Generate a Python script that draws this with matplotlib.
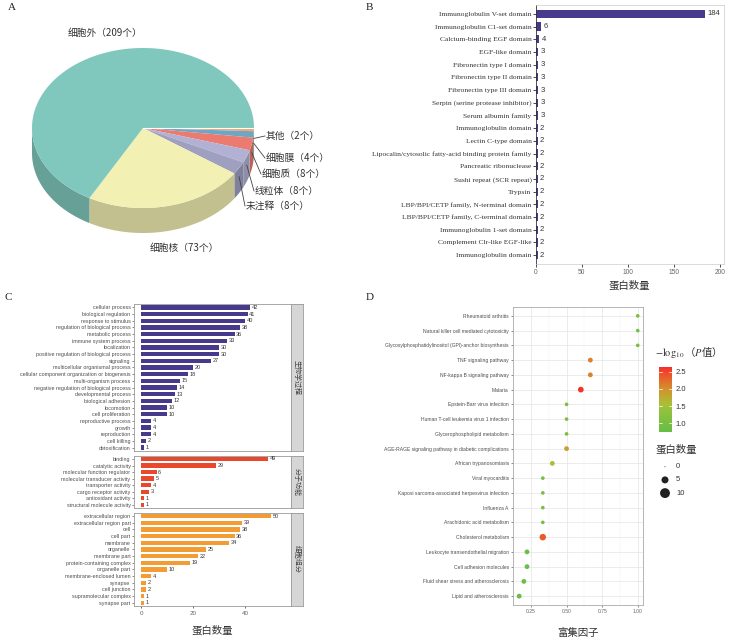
import numpy as np
import matplotlib
matplotlib.use('Agg')
import matplotlib.pyplot as plt
from matplotlib.patches import Polygon
from matplotlib.colors import LinearSegmentedColormap, Normalize, to_rgb
import matplotlib.cm as cm

plt.rcParams['font.family'] = ['Liberation Sans', 'Noto Sans CJK SC', 'DejaVu Sans']
plt.rcParams['mathtext.fontset'] = 'stix'

# ---------------- data ----------------
# A: subcellular location
loc_names = ['其他', '细胞膜', '细胞质', '线粒体', '未注释', '细胞核', '细胞外']
loc_counts = [2, 4, 8, 8, 8, 73, 209]
loc_colors = ['#F4A66A', '#6EA7C6', '#EC7B6F', '#B3B1D3', '#9FA0C0', '#F2F0B3', '#80C8BD']

# B: protein domains
dom_names = ['Immunoglobulin V-set domain', 'Immunoglobulin C1-set domain', 'Calcium-binding EGF domain',
             'EGF-like domain', 'Fibronectin type I domain', 'Fibronectin type II domain',
             'Fibronectin type III domain', 'Serpin (serine protease inhibitor)', 'Serum albumin family',
             'Immunoglobulin domain', 'Lectin C-type domain',
             'Lipocalin/cytosolic fatty-acid binding protein family', 'Pancreatic ribonuclease',
             'Sushi repeat (SCR repeat)', 'Trypsin', 'LBP/BPI/CETP family, N-terminal domain',
             'LBP/BPI/CETP family, C-terminal domain', 'Immunoglobulin 1-set domain',
             'Complement Clr-like EGF-like', 'Immunoglobulin domain']
dom_counts = [184, 6, 4, 3, 3, 3, 3, 3, 3, 2, 2, 2, 2, 2, 2, 2, 2, 2, 2, 2]

# C: GO classification
bp_terms = ['cellular process', 'biological regulation', 'response to stimulus',
            'regulation of biological process', 'metabolic process', 'immune system process',
            'localization', 'positive regulation of biological process', 'signaling',
            'multicellular organismal process', 'cellular component organization or biogenesis',
            'multi-organism process', 'negative regulation of biological process',
            'developmental process', 'biological adhesion', 'locomotion', 'cell proliferation',
            'reproductive process', 'growth', 'reproduction', 'cell killing', 'detoxification']
bp_counts = [42, 41, 40, 38, 36, 33, 30, 30, 27, 20, 18, 15, 14, 13, 12, 10, 10, 4, 4, 4, 2, 1]
mf_terms = ['binding', 'catalytic activity', 'molecular function regulator',
            'molecular transducer activity', 'transporter activity', 'cargo receptor activity',
            'antioxidant activity', 'structural molecule activity']
mf_counts = [49, 29, 6, 5, 4, 3, 1, 1]
cc_terms = ['extracellular region', 'extracellular region part', 'cell', 'cell part', 'membrane',
            'organelle', 'membrane part', 'protein-containing complex', 'organelle part',
            'membrane-enclosed lumen', 'synapse', 'cell junction', 'supramolecular complex',
            'synapse part']
cc_counts = [50, 39, 38, 36, 34, 25, 22, 19, 10, 4, 2, 2, 1, 1]
go_groups = ['生物学过程', '分子功能', '细胞组分']

# D: KEGG enrichment
kegg_terms = ['Rheumatoid arthritis', 'Natural killer cell mediated cytotoxicity',
              'Glycosylphosphatidylinositol (GPI)-anchor biosynthesis', 'TNF signaling pathway',
              'NF-kappa B signaling pathway', 'Malaria', 'Epstein-Barr virus infection',
              'Human T-cell leukemia virus 1 infection', 'Glycerophospholipid metabolism',
              'AGE-RAGE signaling pathway in diabetic complications', 'African trypanosomiasis',
              'Viral myocarditis', 'Kaposi sarcoma-associated herpesvirus infection', 'Influenza A',
              'Arachidonic acid metabolism', 'Cholesterol metabolism',
              'Leukocyte transendothelial migration', 'Cell adhesion molecules',
              'Fluid shear stress and atherosclerosis', 'Lipid and atherosclerosis']
kegg_rich = [1.0, 1.0, 1.0, 0.667, 0.667, 0.6, 0.5, 0.5, 0.5, 0.5, 0.4,
             0.333, 0.333, 0.333, 0.333, 0.333, 0.222, 0.222, 0.2, 0.167]
kegg_logp = [1.0, 1.0, 1.0, 2.1, 2.1, 2.6, 1.05, 1.05, 1.05, 1.85, 1.55,
             1.0, 1.0, 1.0, 1.0, 2.35, 0.85, 0.85, 0.85, 0.8]
kegg_count = [1, 1, 1, 2, 2, 3, 1, 1, 1, 2, 2, 1, 1, 1, 1, 4, 2, 2, 2, 2]
size_breaks = [0, 5, 10]

# ---------------- figure ----------------
W, H = 729, 637
fig = plt.figure(figsize=(W / 100, H / 100), dpi=100)

cjk = ['Noto Sans CJK SC', 'DejaVu Sans']
serif = ['Liberation Serif', 'DejaVu Serif']
txt_dark = '#333333'
txt_grey = '#4D4D4D'


def px_axes(x0, y0, x1, y1):
    return fig.add_axes([x0 / W, 1 - y1 / H, (x1 - x0) / W, (y1 - y0) / H])


# overlay in pixel coords (pie, letters, legends)
ov = px_axes(0, 0, W, H)
ov.set_xlim(0, W)
ov.set_ylim(H, 0)
ov.axis('off')

for letter, (lx, ly) in zip('ABCD', [(8, 8), (366, 8), (5, 298), (366, 298)]):
    ov.text(lx, ly, letter, family=serif, fontsize=8, ha='left', va='center', color='#222222')

# ---------------- A: 3D pie ----------------
cx, cy, rx, ry, depth = 143, 128, 111, 80, 25
total = sum(loc_counts)
bounds = np.concatenate(([0], -np.cumsum(loc_counts) / total * 360))


def ell(th):
    t = np.radians(th)
    return cx + rx * np.cos(t), cy - ry * np.sin(t)


# side faces (front half only)
for i, col in enumerate(loc_colors):
    a0, a1 = bounds[i], bounds[i + 1]
    hi, lo = min(a0, 0), max(a1, -180)
    if hi <= lo:
        continue
    th = np.linspace(hi, lo, 120)
    x, y = ell(th)
    pts = np.column_stack([np.concatenate([x, x[::-1]]), np.concatenate([y, y[::-1] + depth])])
    side = tuple(c * 0.8 for c in to_rgb(col))
    ov.add_patch(Polygon(pts, closed=True, facecolor=side, edgecolor='none'))

# top faces
for i, col in enumerate(loc_colors):
    th = np.linspace(bounds[i], bounds[i + 1], 300)
    x, y = ell(th)
    pts = np.column_stack([np.concatenate([[cx], x]), np.concatenate([[cy], y])])
    ov.add_patch(Polygon(pts, closed=True, facecolor=col, edgecolor='none'))
x0e, y0e = ell(0)
ov.plot([cx, x0e], [cy, y0e], color='white', lw=0.8)

# labels
small_pos = [(266, 136), (266, 158), (262, 174), (255, 191), (246, 206)]
for i in range(5):
    mid = (bounds[i] + bounds[i + 1]) / 2
    sx, sy = ell(mid)
    lx, ly = small_pos[i]
    ov.plot([sx, lx - 1], [sy + depth * 0.35, ly], color='#444444', lw=0.6)
    ov.text(lx, ly, f'{loc_names[i]}（{loc_counts[i]}个）', family=cjk, fontsize=7,
            ha='left', va='center', color=txt_dark)
ov.text(184, 248, f'{loc_names[5]}（{loc_counts[5]}个）', family=cjk, fontsize=7,
        ha='center', va='center', color=txt_dark)
ov.text(105, 33, f'{loc_names[6]}（{loc_counts[6]}个）', family=cjk, fontsize=7,
        ha='center', va='center', color=txt_dark)

# ---------------- B: domains ----------------
axb = px_axes(535.7, 5, 724, 264)
yb = np.arange(len(dom_names))
axb.barh(yb, dom_counts, height=0.65, color='#473A8D')
for yi, v in zip(yb, dom_counts):
    axb.text(v + 2.5, yi, str(v), va='center', ha='left', fontsize=5.5, color=txt_dark)
axb.set_xlim(0, 204.3)
axb.set_ylim(len(dom_names) - 0.3, -0.7)
axb.set_yticks(yb)
axb.set_yticklabels(dom_names, family=serif, fontsize=5.4, color=txt_dark)
axb.set_xticks([0, 50, 100, 150, 200])
axb.tick_params(axis='x', labelsize=4.8, labelcolor='#666666', length=2, width=0.5, pad=1.5)
axb.tick_params(axis='y', length=2, width=0.5, pad=1)
for s in ['top', 'right', 'bottom']:
    axb.spines[s].set_color('#CCCCCC')
    axb.spines[s].set_linewidth(0.5)
axb.spines['left'].set_color('#333333')
axb.spines['left'].set_linewidth(0.6)
axb.set_xlabel('蛋白数量', family=cjk, fontsize=7.5, color=txt_dark, labelpad=3)

# ---------------- C: GO facets ----------------
facets = [(304, 451, bp_terms, bp_counts, '#473A8D'),
          (455.7, 508, mf_terms, mf_counts, '#E8482B'),
          (512.7, 606, cc_terms, cc_counts, '#F39C33')]
for k, (fy0, fy1, terms, vals, col) in enumerate(facets):
    ax = px_axes(134, fy0, 291, fy1)
    y = np.arange(len(terms))
    ax.barh(y, vals, height=0.65, color=col)
    for yi, v in zip(y, vals):
        ax.text(v + 0.6, yi, str(v), va='center', ha='left', fontsize=4, color=txt_dark)
    ax.set_xlim(-2.7, 57.7)
    ax.set_ylim(len(terms) - 0.5, -0.5)
    ax.set_yticks(y)
    ax.set_yticklabels(terms, fontsize=3.9, color=txt_grey)
    ax.tick_params(axis='y', length=1.5, width=0.4, pad=1, color='#333333')
    ax.set_xticks([0, 20, 40])
    if k < 2:
        ax.tick_params(axis='x', length=0, labelbottom=False)
    else:
        ax.tick_params(axis='x', length=1.5, width=0.4, labelsize=4.5, labelcolor='#666666', pad=2)
        ax.set_xlabel('蛋白数量', family=cjk, fontsize=7.5, color=txt_dark, labelpad=7)
    for s in ax.spines.values():
        s.set_color('#999999')
        s.set_linewidth(0.6)
    st = px_axes(291, fy0, 302.7, fy1)
    st.set_facecolor('#D6D6D6')
    st.set_xticks([])
    st.set_yticks([])
    for s in st.spines.values():
        s.set_color('#999999')
        s.set_linewidth(0.6)
    st.text(0.5, 0.5, go_groups[k], family=cjk, fontsize=5, rotation=-90,
            ha='center', va='center', color='#444444', transform=st.transAxes)

# ---------------- D: KEGG bubble ----------------
cmap = LinearSegmentedColormap.from_list('gr', [(0, '#66BD47'), (0.33, '#92C23C'), (0.42, '#A8C038'),
                                                (0.66, '#D3912B'), (0.9, '#EF4B2B'), (1, '#F42D2A')])
norm = Normalize(vmin=0.756, vmax=2.645)

axd = px_axes(513, 307, 643, 605)
yd = np.arange(len(kegg_terms))
axd.set_xlim(0.1236, 1.037)
axd.set_ylim(len(kegg_terms) - 0.4, -0.6)
axd.set_xticks([0.25, 0.5, 0.75, 1.0])
axd.set_xticklabels(['0.25', '0.50', '0.75', '1.00'])
axd.set_xticks([0.125, 0.375, 0.625, 0.875], minor=True)
axd.set_yticks(yd)
axd.set_yticklabels(kegg_terms, fontsize=3.6, color=txt_grey)
axd.grid(True, which='major', color='#E5E5E5', lw=0.5)
axd.grid(True, which='minor', axis='x', color='#F0F0F0', lw=0.35)
axd.set_axisbelow(True)
axd.tick_params(axis='both', which='major', length=1.5, width=0.4, color='#333333', pad=1.5)
axd.tick_params(axis='x', labelsize=3.6, labelcolor='#666666')
axd.tick_params(which='minor', length=0)
for s in axd.spines.values():
    s.set_color('#AAAAAA')
    s.set_linewidth(0.6)
axd.scatter(kegg_rich, yd, s=2 + np.array(kegg_count) * 5.0, c=kegg_logp, cmap=cmap, norm=norm,
            edgecolors='none', zorder=3)
axd.set_xlabel('富集因子', family=cjk, fontsize=7.5, color=txt_dark, labelpad=10)

# colour bar
cax = px_axes(659, 366.7, 671.7, 431.7)
cb = fig.colorbar(cm.ScalarMappable(norm=norm, cmap=cmap), cax=cax, ticks=[1.0, 1.5, 2.0, 2.5])
cb.outline.set_visible(False)
cax.tick_params(length=0, labelsize=5.5, labelcolor=txt_dark, pad=3)
for v in [1.0, 1.5, 2.0, 2.5]:
    cax.axhline(v, 0, 0.2, color='white', lw=0.5)
    cax.axhline(v, 0.8, 1, color='white', lw=0.5)
ov.text(655, 352, r'$-\log_{10}$（$P$值）', family=cjk, fontsize=7.5, ha='left', va='center', color=txt_dark)

# size legend
ov.text(656, 450, '蛋白数量', family=cjk, fontsize=7.5, ha='left', va='center', color=txt_dark)
for j, b in enumerate(size_breaks):
    ly = 466.7 + j * 13.2
    ov.scatter([665], [ly], s=0.5 + 5 * b, color='#222222', edgecolors='none')
    ov.text(676, ly, str(b), fontsize=5.5, ha='left', va='center', color=txt_dark)

fig.savefig('out.png', dpi=100)
